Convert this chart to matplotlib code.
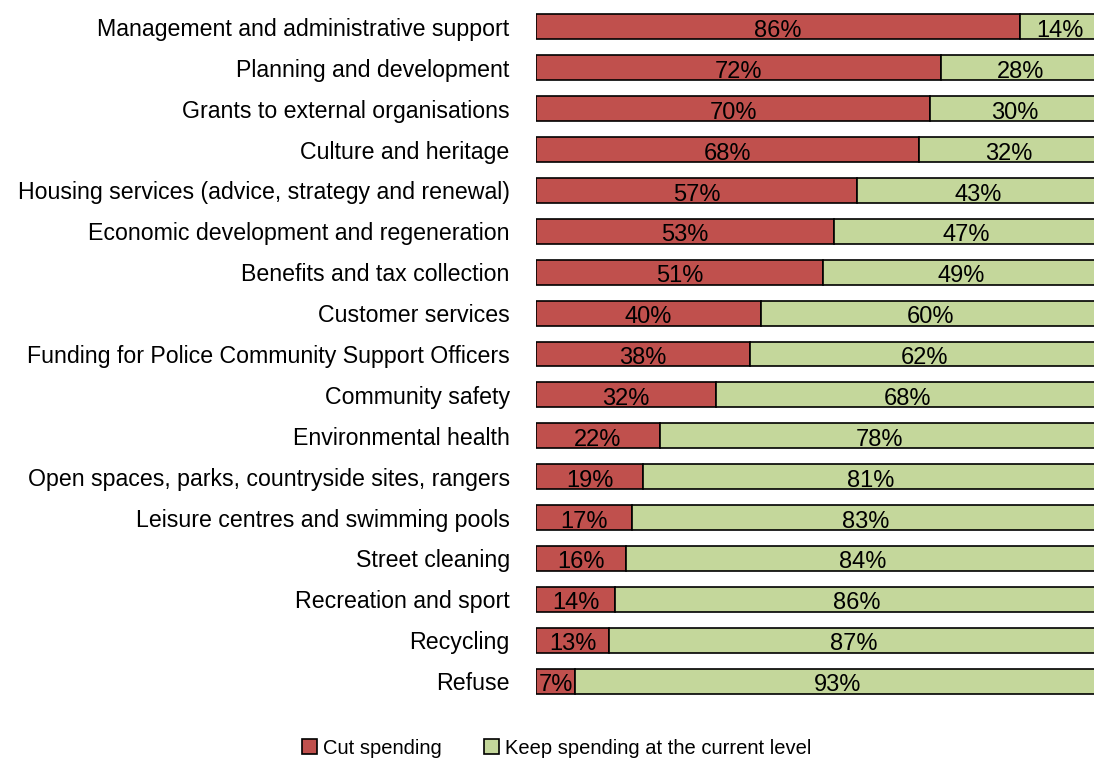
import matplotlib.pyplot as plt

categories = [
    "Management and administrative support",
    "Planning and development",
    "Grants to external organisations",
    "Culture and heritage",
    "Housing services (advice, strategy and renewal)",
    "Economic development and regeneration",
    "Benefits and tax collection",
    "Customer services",
    "Funding for Police Community Support Officers",
    "Community safety",
    "Environmental health",
    "Open spaces, parks, countryside sites, rangers",
    "Leisure centres and swimming pools",
    "Street cleaning",
    "Recreation and sport",
    "Recycling",
    "Refuse",
]
cut = [86, 72, 70, 68, 57, 53, 51, 40, 38, 32, 22, 19, 17, 16, 14, 13, 7]
keep = [14, 28, 30, 32, 43, 47, 49, 60, 62, 68, 78, 81, 83, 84, 86, 87, 93]

plt.rcParams['font.family'] = ['Liberation Sans', 'DejaVu Sans']

fig = plt.figure(figsize=(10.94, 7.62), dpi=100)
ax = fig.add_axes([0.49, 0.0794, 0.5146, 0.9121])

y = list(range(len(categories)))
h = 0.61
b1 = ax.barh(y, cut, height=h, color="#C0504D", edgecolor="black", linewidth=1.2,
             label="Cut spending")
b2 = ax.barh(y, keep, left=cut, height=h, color="#C4D79B", edgecolor="black", linewidth=1.2,
             label="Keep spending at the current level")

# valores dentro das barras
for i in y:
    ax.text(cut[i] / 2, i + 0.1, f"{cut[i]}%", ha="center", va="center", fontsize=17)
    ax.text(cut[i] + keep[i] / 2, i + 0.1, f"{keep[i]}%", ha="center", va="center", fontsize=17)

ax.set_xlim(0, 100)
ax.set_ylim(len(categories) - 0.5, -0.5)
ax.set_yticks(y)
ax.set_yticklabels(categories, fontsize=16.7)
ax.tick_params(axis="y", length=0, pad=19)
ax.set_xticks([])
for s in ax.spines.values():
    s.set_visible(False)

fig.legend(handles=[b1, b2], loc="center", bbox_to_anchor=(0.509, 0.018), ncol=2,
           frameon=False, fontsize=14.5, handlelength=0.75, handleheight=0.75,
           handletextpad=0.3, columnspacing=2.1)

plt.savefig("out.png", dpi=100)
